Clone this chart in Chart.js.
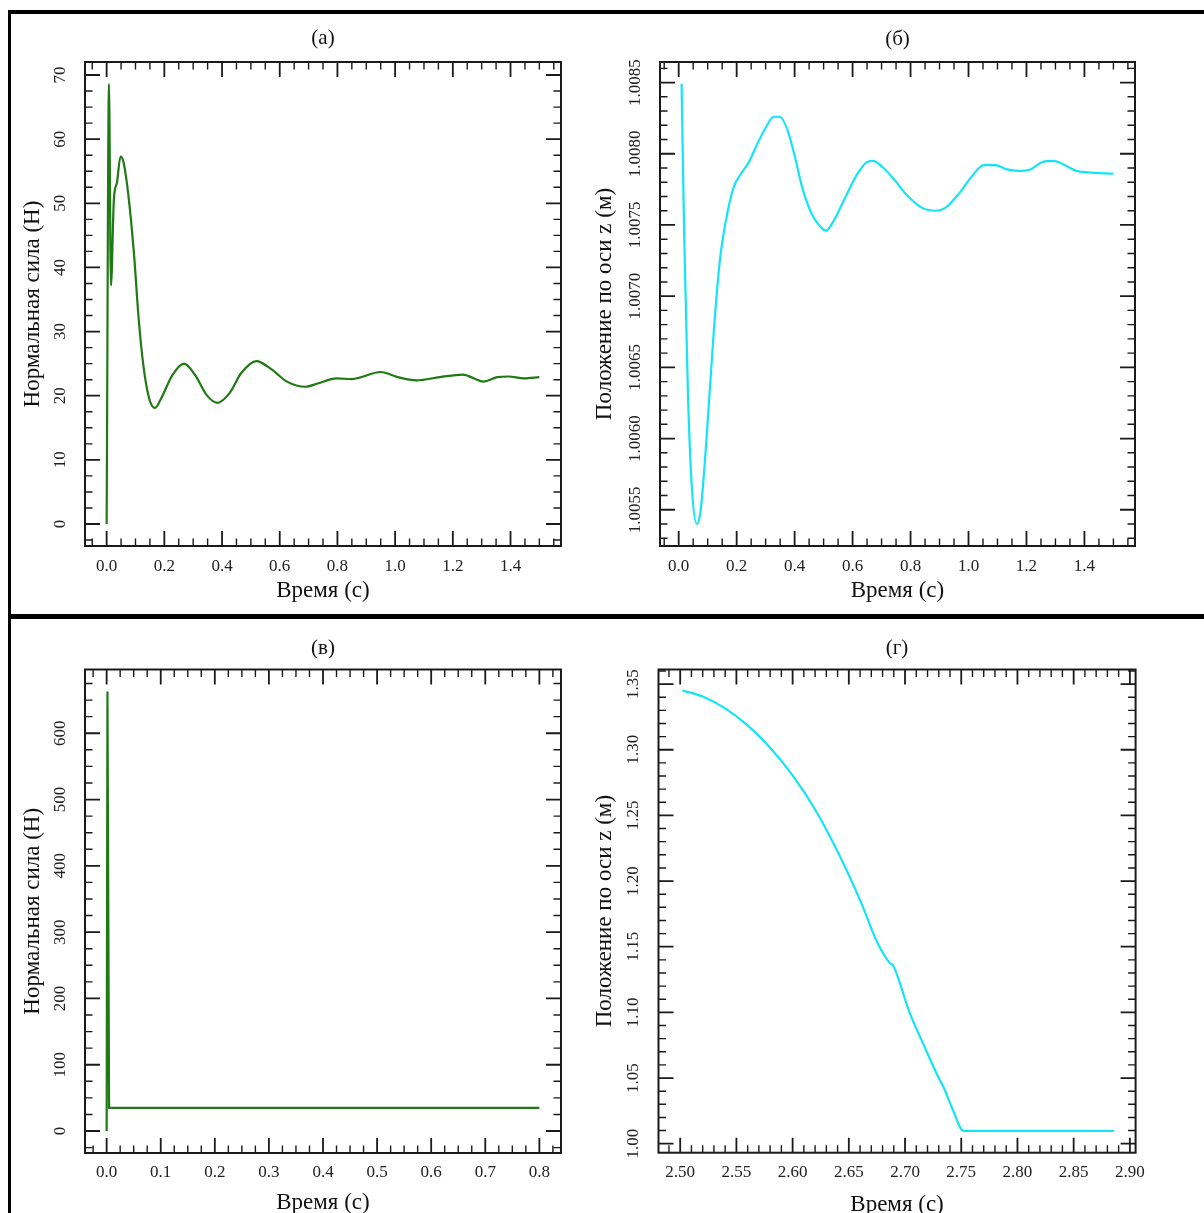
<!DOCTYPE html>
<html lang="ru">
<head>
<meta charset="utf-8">
<title>Нормальная сила и положение по оси z</title>
<script src="https://cdn.jsdelivr.net/npm/chart.js@4.4.1/dist/chart.umd.min.js"></script>
<style>
  html, body { margin: 0; padding: 0; background: #fff; overflow: hidden; }
  #page { position: relative; width: 1204px; height: 1213px; overflow: hidden; }
  #page canvas { position: absolute; }
  .rule { position: absolute; background: #000; }
</style>
</head>
<body>
<div id="page">
  <canvas id="chartA" width="580" height="599" style="left:10px;top:15px"></canvas>
  <canvas id="chartB" width="629" height="599" style="left:575px;top:15px"></canvas>
  <canvas id="chartC" width="580" height="600" style="left:10px;top:619px"></canvas>
  <canvas id="chartD" width="629" height="600" style="left:575px;top:619px"></canvas>
  <div class="rule" style="left:8px;top:10px;width:1196px;height:4px"></div>
  <div class="rule" style="left:8px;top:10px;width:3px;height:1203px"></div>
  <div class="rule" style="left:8px;top:614px;width:1196px;height:5px"></div>
</div>
<script>
// (а) normal force, first 1.5 s
const timeA = [0, 0.008, 0.015, 0.025, 0.036, 0.048, 0.058, 0.075, 0.095, 0.111, 0.128, 0.148, 0.168,
  0.188, 0.228, 0.268, 0.307, 0.347, 0.384, 0.426, 0.466, 0.519, 0.572, 0.625, 0.69, 0.731, 0.797,
  0.85, 0.95, 1.009, 1.075, 1.155, 1.234, 1.307, 1.354, 1.393, 1.446, 1.5];
const forceA = [0, 68.6, 37.2, 50.5, 53.3, 57.3, 56.5, 51.4, 42.0, 32.0, 24.5, 19.5, 18.1,
  19.5, 23.2, 25.0, 23.2, 20.1, 18.9, 20.4, 23.5, 25.4, 24.1, 22.2, 21.4, 21.9, 22.7,
  22.6, 23.7, 22.9, 22.4, 22.9, 23.3, 22.2, 22.9, 23.0, 22.7, 22.9];

// (б) position along z, first 1.5 s
const timeB = [0.01, 0.019, 0.032, 0.045, 0.0625, 0.076, 0.096, 0.122, 0.142, 0.162, 0.189, 0.215,
  0.242, 0.269, 0.302, 0.328, 0.348, 0.375, 0.402, 0.428, 0.461, 0.488, 0.508, 0.535, 0.574, 0.614,
  0.648, 0.670, 0.707, 0.747, 0.787, 0.840, 0.887, 0.920, 0.967, 1.007, 1.053, 1.093, 1.133, 1.173,
  1.213, 1.253, 1.293, 1.333, 1.372, 1.412, 1.5];
const posB = [1.00849, 1.00742, 1.00631, 1.00567, 1.00540, 1.00550, 1.00600, 1.00678, 1.00725, 1.00752,
  1.00776, 1.00786, 1.00794, 1.00806, 1.00819, 1.00826, 1.00826, 1.00817, 1.00797, 1.00775, 1.00757,
  1.00749, 1.00746, 1.00753, 1.00769, 1.00785, 1.00794, 1.00795, 1.00790, 1.00781, 1.00771, 1.00762,
  1.00760, 1.00762, 1.00772, 1.00783, 1.00792, 1.00792, 1.00789, 1.00788, 1.00789, 1.00794, 1.00795,
  1.00792, 1.00788, 1.00787, 1.00786];

// (в) normal force, second run
const timeC = [0, 0.0015, 0.0045, 0.8];
const forceC = [0, 663, 35, 35];

// (г) position along z, falling
const timeD = [2.502, 2.52, 2.54, 2.56, 2.58, 2.60, 2.62, 2.64, 2.66, 2.676, 2.6865, 2.6895,
  2.704, 2.717, 2.730, 2.734, 2.742, 2.752, 2.886];
const posD = [1.345, 1.3405, 1.3315, 1.3185, 1.3015, 1.2805, 1.2545, 1.2225, 1.1855, 1.152, 1.1375, 1.1355,
  1.100, 1.0745, 1.050, 1.0435, 1.027, 1.0098, 1.0098];

// tick values and labels
const xTicksAB = [0, 0.2, 0.4, 0.6, 0.8, 1.0, 1.2, 1.4];
const xLabelsAB = ['0.0', '0.2', '0.4', '0.6', '0.8', '1.0', '1.2', '1.4'];
const yTicksA = [0, 10, 20, 30, 40, 50, 60, 70];
const yLabelsA = ['0', '10', '20', '30', '40', '50', '60', '70'];
const yTicksB = [1.0055, 1.0060, 1.0065, 1.0070, 1.0075, 1.0080, 1.0085];
const yLabelsB = ['1.0055', '1.0060', '1.0065', '1.0070', '1.0075', '1.0080', '1.0085'];
const xTicksC = [0, 0.1, 0.2, 0.3, 0.4, 0.5, 0.6, 0.7, 0.8];
const xLabelsC = ['0.0', '0.1', '0.2', '0.3', '0.4', '0.5', '0.6', '0.7', '0.8'];
const yTicksC = [0, 100, 200, 300, 400, 500, 600];
const yLabelsC = ['0', '100', '200', '300', '400', '500', '600'];
const xTicksD = [2.50, 2.55, 2.60, 2.65, 2.70, 2.75, 2.80, 2.85, 2.90];
const xLabelsD = ['2.50', '2.55', '2.60', '2.65', '2.70', '2.75', '2.80', '2.85', '2.90'];
const yTicksD = [1.00, 1.05, 1.10, 1.15, 1.20, 1.25, 1.30, 1.35];
const yLabelsD = ['1.00', '1.05', '1.10', '1.15', '1.20', '1.25', '1.30', '1.35'];

// minor tick steps [x, y]
const minorA = [0.05, 2.5];
const minorB = [0.05, 0.0001];
const minorC = [0.025, 25];
const minorD = [0.01, 0.01];

const GREEN = '#1f7a14';
const CYAN = '#14e4f8';
const INK = '#1a1a1a';

Chart.defaults.font.family = "'Liberation Serif', 'Times New Roman', serif";
Chart.defaults.color = '#222';

function stepsBetween(min, max, step) {
    const out = [];
    for (let n = Math.ceil(min / step - 1e-6); n * step <= max + 1e-9; n++) out.push(n * step);
    return out;
}

// box, inward ticks on all four sides, rotated y labels
function framePlugin(p) {
    return {
        id: 'frame',
        afterDatasetsDraw(chart) {
            const { ctx, chartArea: a, scales: { x, y } } = chart;
            const isMajor = (list, v, step) => list.some(m => Math.abs(m - v) < step * 1e-3);
            ctx.save();
            ctx.strokeStyle = INK;

            const xMinor = stepsBetween(x.min, x.max, p.minor[0]).filter(v => !isMajor(p.xTicks, v, p.minor[0]));
            const yMinor = stepsBetween(y.min, y.max, p.minor[1]).filter(v => !isMajor(p.yTicks, v, p.minor[1]));
            const marks = [
                ...p.xTicks.map(v => ['x', v, 15, 1.8]),
                ...xMinor.map(v => ['x', v, 7.5, 1.4]),
                ...p.yTicks.map(v => ['y', v, 15, 1.8]),
                ...yMinor.map(v => ['y', v, 7.5, 1.4])
            ];
            marks.forEach(([axis, v, len, w]) => {
                ctx.lineWidth = w;
                ctx.beginPath();
                if (axis === 'x') {
                    const px = x.getPixelForValue(v);
                    ctx.moveTo(px, a.bottom); ctx.lineTo(px, a.bottom - len);
                    ctx.moveTo(px, a.top); ctx.lineTo(px, a.top + len);
                } else {
                    const py = y.getPixelForValue(v);
                    ctx.moveTo(a.left, py); ctx.lineTo(a.left + len, py);
                    ctx.moveTo(a.right, py); ctx.lineTo(a.right - len, py);
                }
                ctx.stroke();
            });

            ctx.lineWidth = 2;
            ctx.strokeRect(a.left, a.top, a.right - a.left, a.bottom - a.top);

            ctx.fillStyle = '#222';
            ctx.font = "17px 'Liberation Serif', serif";
            ctx.textAlign = 'center';
            ctx.textBaseline = 'middle';
            p.yTicks.forEach((v, i) => {
                ctx.save();
                ctx.translate(a.left - 24.5, y.getPixelForValue(v));
                ctx.rotate(-Math.PI / 2);
                ctx.fillText(p.yLabels[i], 0, 0);
                ctx.restore();
            });
            ctx.restore();
        }
    };
}

function makePanel(p) {
    return new Chart(document.getElementById(p.id), {
        type: 'line',
        data: {
            datasets: [{
                data: p.xs.map((x, i) => ({ x, y: p.ys[i] })),
                borderColor: p.color,
                borderWidth: 2.2,
                pointRadius: 0,
                fill: false,
                tension: p.smooth ? 0.4 : 0,
                cubicInterpolationMode: p.smooth ? 'monotone' : 'default'
            }]
        },
        options: {
            responsive: false,
            animation: false,
            events: [],
            layout: { autoPadding: false, padding: { left: 0, top: 0, bottom: 0, right: p.padRight } },
            plugins: {
                legend: { display: false },
                tooltip: { enabled: false },
                title: {
                    display: true,
                    text: p.title,
                    fullSize: false,
                    color: '#111',
                    font: { size: 21, weight: 'normal' },
                    padding: { top: p.titleTop, bottom: p.titleBottom }
                }
            },
            scales: {
                x: {
                    type: 'linear',
                    min: p.xRange[0],
                    max: p.xRange[1],
                    afterBuildTicks: s => { s.ticks = p.xTicks.map(v => ({ value: v })); },
                    afterFit: s => { s.height = p.xHeight; },
                    grid: { display: false, drawTicks: false },
                    border: { display: false },
                    ticks: {
                        autoSkip: false,
                        maxRotation: 0,
                        padding: p.xTickPad,
                        color: '#222',
                        font: { size: 17 },
                        callback: (v, i) => p.xLabels[i]
                    },
                    title: {
                        display: true,
                        text: 'Время (с)',
                        color: '#111',
                        font: { size: 23 },
                        padding: { top: 0, bottom: p.xTitlePad }
                    }
                },
                y: {
                    type: 'linear',
                    min: p.yRange[0],
                    max: p.yRange[1],
                    afterBuildTicks: s => { s.ticks = p.yTicks.map(v => ({ value: v })); },
                    afterFit: s => { s.width = p.yWidth; },
                    grid: { display: false, drawTicks: false },
                    border: { display: false },
                    ticks: { display: false },
                    title: {
                        display: true,
                        text: p.yTitle,
                        color: '#111',
                        font: { size: 23 },
                        padding: { top: p.yTitlePad, bottom: 0 }
                    }
                }
            }
        },
        plugins: [framePlugin(p)]
    });
}

makePanel({
    id: 'chartA', title: '(а)', xs: timeA, ys: forceA, color: GREEN, smooth: true,
    xRange: [-0.075, 1.575], yRange: [-3.43, 72.03],
    xTicks: xTicksAB, xLabels: xLabelsAB, yTicks: yTicksA, yLabels: yLabelsA, minor: minorA,
    yTitle: 'Нормальная сила (Н)',
    padRight: 29, yWidth: 75, xHeight: 68, titleTop: 10.4, titleBottom: 11.4,
    xTickPad: 10.5, xTitlePad: 9.2, yTitlePad: 8.7
});

makePanel({
    id: 'chartB', title: '(б)', xs: timeB, ys: posB, color: CYAN, smooth: true,
    xRange: [-0.0645, 1.5745], yRange: [1.0052455, 1.0086445],
    xTicks: xTicksAB, xLabels: xLabelsAB, yTicks: yTicksB, yLabels: yLabelsB, minor: minorB,
    yTitle: 'Положение по оси z (м)',
    padRight: 69, yWidth: 85, xHeight: 68, titleTop: 11.4, titleBottom: 10.4,
    xTickPad: 10.5, xTitlePad: 9.2, yTitlePad: 16.2
});

makePanel({
    id: 'chartC', title: '(в)', xs: timeC, ys: forceC, color: GREEN, smooth: false,
    xRange: [-0.04, 0.84], yRange: [-33.15, 696.15],
    xTicks: xTicksC, xLabels: xLabelsC, yTicks: yTicksC, yLabels: yLabelsC, minor: minorC,
    yTitle: 'Нормальная сила (Н)',
    padRight: 29, yWidth: 75, xHeight: 66, titleTop: 16.4, titleBottom: 8.9,
    xTickPad: 9.5, xTitlePad: 2.2, yTitlePad: 8.7
});

makePanel({
    id: 'chartD', title: '(г)', xs: timeD, ys: posD, color: CYAN, smooth: true,
    xRange: [2.4807, 2.9051], yRange: [0.99315, 1.3611],
    xTicks: xTicksD, xLabels: xLabelsD, yTicks: yTicksD, yLabels: yLabelsD, minor: minorD,
    yTitle: 'Положение по оси z (м)',
    padRight: 68.4, yWidth: 83.5, xHeight: 66.3, titleTop: 16.8, titleBottom: 8.5,
    xTickPad: 9.5, xTitlePad: 0.5, yTitlePad: 16.2
});
</script>
</body>
</html>
